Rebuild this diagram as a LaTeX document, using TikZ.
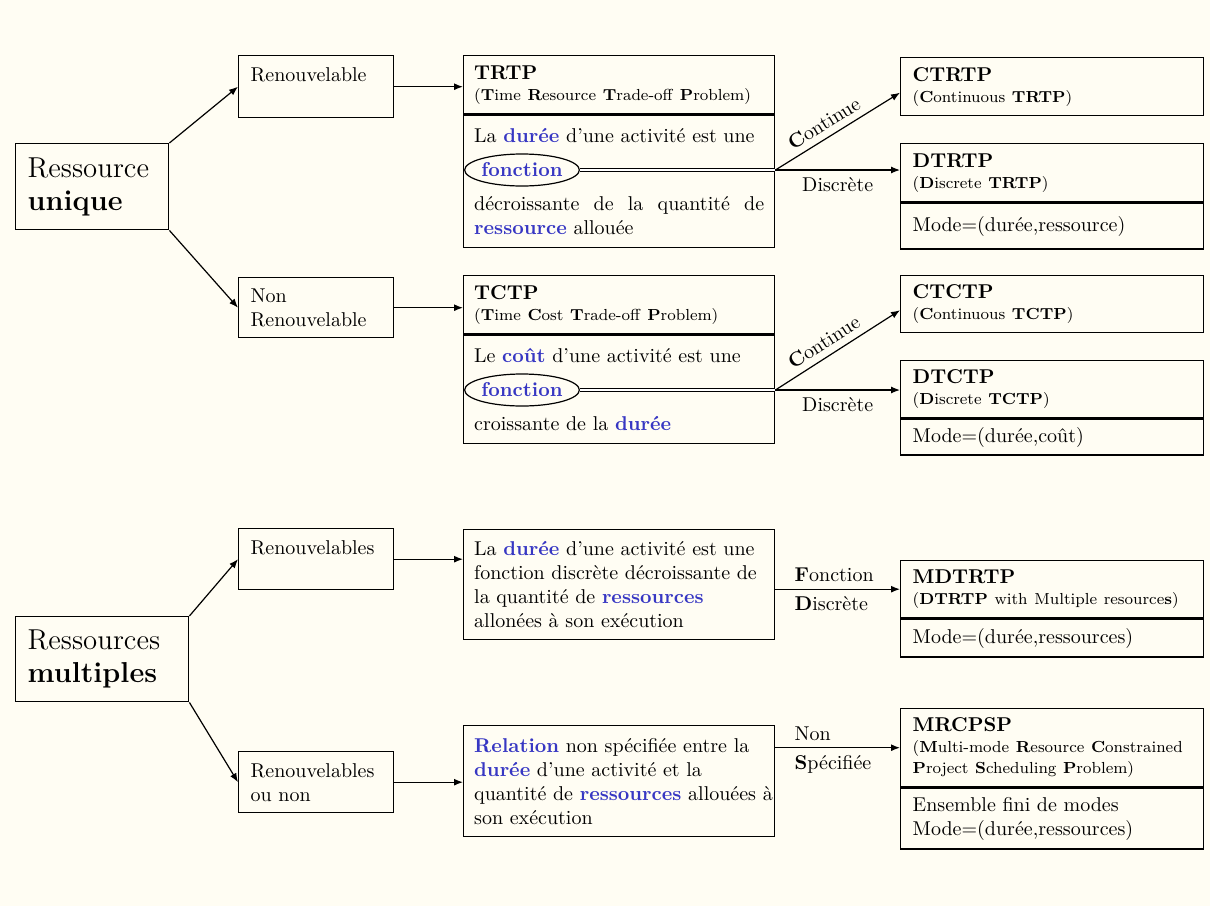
\documentclass[tikz,border=0pt]{standalone}
\usepackage{amsmath}
\usepackage{fontspec}
\usepackage{tikz}
\usepackage{xcolor}
\usetikzlibrary{shapes.geometric, arrows.meta, positioning, calc}
\definecolor{fond}{RGB}{255,253,243}
\definecolor{bleu}{RGB}{55,55,195}
\newcommand{\bl}[1]{\textcolor{bleu}{\textbf{#1}}}

\begin{document}
\begin{tikzpicture}[x=0.5pt,y=-0.5pt,
  boite/.style={draw, line width=0.7pt, anchor=north west, inner xsep=6pt, align=left},
  petite/.style={boite, text width=65.5pt, minimum height=31pt},
  moyenne/.style={boite, inner xsep=5.25pt, text width=145pt},
  droite/.style={boite, text width=139.5pt},
  fleche/.style={line width=0.6pt, -{Latex[length=4.5pt,width=3.5pt]}},
  bulle/.style={draw, ellipse, line width=0.6pt, minimum width=55.5pt, minimum height=16pt, inner sep=0pt}]
\fill[fond] (0,0) rectangle (1210,906);
\useasboundingbox (0,0) rectangle (1210,906);

% Ressource unique
\node[boite, text width=64.5pt, minimum height=43pt, font=\Large] (ru) at (15,143) {Ressource\\[-1.5pt]\textbf{unique}};
\node[petite] (ren1) at (238,55) {Renouvelable\\\mbox{}};
\node[petite, minimum height=30pt] (nren) at (238,277) {Non\\Renouvelable};

\node[moyenne, minimum height=29pt] (trtph) at (463,55) {\textbf{TRTP}\\[-1.5pt]{\footnotesize(\textbf{T}ime \textbf{R}esource \textbf{T}rade-off \textbf{P}roblem)}};
\node[moyenne, align=justify, inner ysep=6.5pt] (trtpb) at (trtph.south west) {La \bl{durée} d'une activité est une\\[22pt] décroissante de la quantité de \bl{ressource} allouée};
\node[bulle] (fonc1) at (522,170) {\bl{fonction}};
\coordinate (br1) at (fonc1.east -| trtpb.east);

\node[moyenne, minimum height=29pt] (tctph) at (463,275) {\textbf{TCTP}\\[-1.5pt]{\footnotesize(\textbf{T}ime \textbf{C}ost \textbf{T}rade-off \textbf{P}roblem)}};
\node[moyenne, align=justify, inner ysep=6.5pt] (tctpb) at (tctph.south west) {Le \bl{coût} d'une activité est une\\[22pt] croissante de la \bl{durée}};
\node[bulle] (fonc2) at (522,390) {\bl{fonction}};
\coordinate (br2) at (fonc2.east -| tctpb.east);

\node[droite, minimum height=29pt] (ctrtp) at (900,57) {\textbf{CTRTP}\\[-1.5pt]{\footnotesize(\textbf{C}ontinuous \textbf{TRTP})}};
\node[droite, minimum height=29pt] (dtrtph) at (900,143) {\textbf{DTRTP}\\[-1.5pt]{\footnotesize(\textbf{D}iscrete \textbf{TRTP})}};
\node[droite, minimum height=23pt] (dtrtpb) at (dtrtph.south west) {Mode=(durée,ressource)};

\node[droite, minimum height=28.5pt] (ctctp) at (900,275) {\textbf{CTCTP}\\[-1.5pt]{\footnotesize(\textbf{C}ontinuous \textbf{TCTP})}};
\node[droite, minimum height=28.5pt] (dtctph) at (900,360) {\textbf{DTCTP}\\[-1.5pt]{\footnotesize(\textbf{D}iscrete \textbf{TCTP})}};
\node[droite, minimum height=18pt] (dtctpb) at (dtctph.south west) {Mode=(durée,coût)};

\draw[fleche] (ru.north east) -- (ren1.west);
\draw[fleche] (ru.south east) -- (nren.west);
\draw[fleche] (ren1.east) -- (ren1.east -| trtph.west);
\draw[fleche] (nren.east) -- (nren.east -| tctph.west);
\draw[double, double distance=0.7pt, line width=0.5pt] (fonc1) -- (br1);
\draw[double, double distance=0.7pt, line width=0.5pt] (fonc2) -- (br2);
\draw[fleche] (br1) -- node[sloped, above, pos=0.45] {\textbf{C}ontinue} ([yshift=-3pt]ctrtp.west);
\draw[fleche] (br1) -- node[below] {Discrète} (br1 -| dtrtph.west);
\draw[fleche] (br2) -- node[sloped, above, pos=0.45] {\textbf{C}ontinue} ([yshift=-3pt]ctctp.west);
\draw[fleche] (br2) -- node[below] {Discrète} (br2 -| dtctph.west);

% Ressources multiples
\node[boite, text width=74.5pt, minimum height=42.5pt, font=\Large] (rm) at (15,616) {Ressources\\[-1.5pt]\textbf{multiples}};
\node[petite, minimum height=30.5pt] (ren2) at (238,528) {Renouvelables\\\mbox{}};
\node[petite, minimum height=30.5pt] (renou) at (238,751) {Renouvelables\\ou non};

\node[moyenne, minimum height=55pt] (dur) at (463,529) {La \bl{durée} d'une activité est une\\fonction discrète décroissante de\\la quantité de \bl{ressources}\\allonées à son exécution};
\node[moyenne, minimum height=55.5pt] (rel) at (463,725) {\bl{Relation} non spécifiée entre la\\\bl{durée} d'une activité et la\\\mbox{quantité de \bl{ressources} allouées à}\\son exécution};

\node[droite, minimum height=28.5pt] (mdtrtph) at (900,560) {\textbf{MDTRTP}\\[-1.5pt]{\footnotesize(\textbf{DTRTP} with Multiple resource\textbf{s})}};
\node[droite, minimum height=19pt] (mdtrtpb) at (mdtrtph.south west) {Mode=(durée,ressources)};
\node[droite, minimum height=39pt] (mrcpsph) at (900,708) {\textbf{MRCPSP}\\[-1.5pt]{\footnotesize(\textbf{M}ulti-mode \textbf{R}esource \textbf{C}onstrained}\\[-1.5pt]{\footnotesize\textbf{P}roject \textbf{S}cheduling \textbf{P}roblem)}};
\node[droite, minimum height=30.5pt] (mrcpspb) at (mrcpsph.south west) {Ensemble fini de modes\\Mode=(durée,ressources)};

\draw[fleche] (rm.north east) -- (ren2.west);
\draw[fleche] (rm.south east) -- (renou.west);
\draw[fleche] (ren2.east) -- (ren2.east -| dur.west);
\draw[fleche] (renou.east) -- (renou.east -| rel.west);
\draw[fleche] (mdtrtph.west -| dur.east) -- node[pos=0.15, anchor=south west, inner xsep=0pt] {\textbf{F}onction} node[pos=0.15, anchor=north west, inner xsep=0pt] {\textbf{D}iscrète} (mdtrtph.west);
\draw[fleche] (mrcpsph.west -| rel.east) -- node[pos=0.15, anchor=south west, inner xsep=0pt] {Non} node[pos=0.15, anchor=north west, inner xsep=0pt] {\textbf{S}pécifiée} (mrcpsph.west);
\end{tikzpicture}
\end{document}
